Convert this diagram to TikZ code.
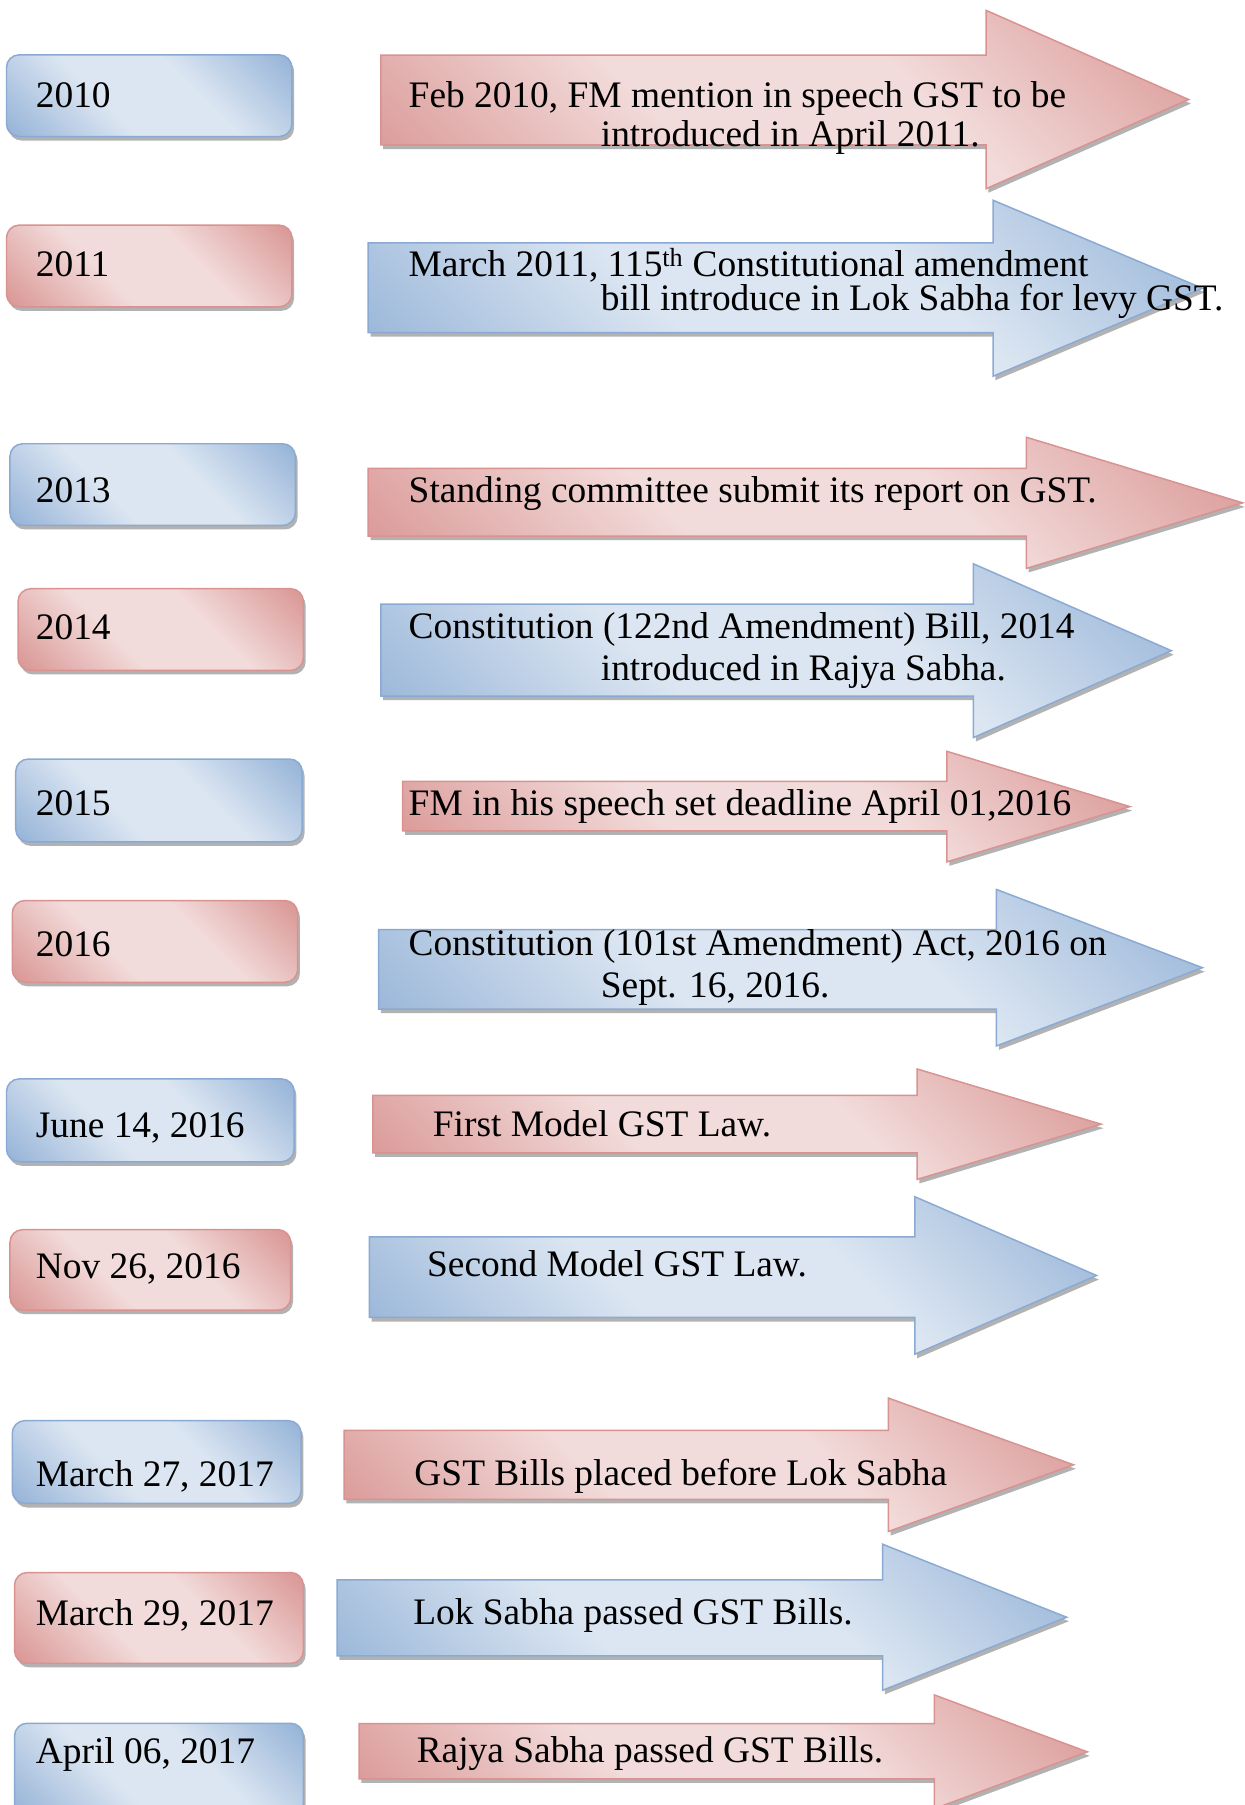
\documentclass[tikz,border=0pt]{standalone}
\usepackage{fontspec}
\setmainfont{Liberation Serif}
\usetikzlibrary{shadows}
\definecolor{blight}{HTML}{DCE6F2}
\definecolor{bdark}{HTML}{95B3D7}
\definecolor{bline}{HTML}{8AAAD3}
\definecolor{rlight}{HTML}{F2DCDB}
\definecolor{rdark}{HTML}{D99694}
\definecolor{rline}{HTML}{D89391}
\pgfdeclareverticalshading{bdiag}{100bp}{color(0bp)=(bdark); color(15bp)=(bdark); color(40bp)=(blight); color(60bp)=(blight); color(85bp)=(bdark); color(100bp)=(bdark)}
\pgfdeclareverticalshading{rdiag}{100bp}{color(0bp)=(rdark); color(15bp)=(rdark); color(40bp)=(rlight); color(60bp)=(rlight); color(85bp)=(rdark); color(100bp)=(rdark)}
\tikzset{
  shad/.style={drop shadow={shadow xshift=2pt, shadow yshift=-3.5pt, fill=black, opacity=0.3}},
  bluefill/.style={shad, shading=bdiag, shading angle=135, draw=bline, line width=1.3pt},
  redfill/.style={shad, shading=rdiag, shading angle=135, draw=rline, line width=1.3pt},
  datebox/.style={rectangle, rounded corners=11pt, anchor=north west, inner sep=0pt},
  txt/.style={font=\fontsize{32.5}{40}\selectfont, inner sep=0pt, anchor=base west},
}
\newcommand\gstarrow[9]{\draw[#1] (#2,#3) -- (#5,#3) -- (#5,#6) -- (#8,#9) -- (#5,#7) -- (#5,#4) -- (#2,#4) -- cycle;}
\newcommand\gstbox[6]{\node[datebox,#2, minimum width=#5pt-#3pt, minimum height=#6pt-#4pt] (#1) at (#3,#4) {};}
\begin{document}
\begin{tikzpicture}[x=1pt,y=-1pt]
\useasboundingbox (0,0) rectangle (1082,1568.7);
% date boxes
\gstbox{b1}{bluefill}{5}{47}{253}{118}
\gstbox{b2}{redfill}{5}{195}{253}{266}
\gstbox{b3}{bluefill}{8}{385}{256}{456}
\gstbox{b4}{redfill}{15}{511}{263}{582}
\gstbox{b5}{bluefill}{13}{659}{262}{731}
\gstbox{b6}{redfill}{10}{782}{258}{853}
\gstbox{b7}{bluefill}{5}{937}{255}{1009}
\gstbox{b8}{redfill}{8}{1068}{252}{1138}
\gstbox{b9}{bluefill}{10}{1234}{261}{1306}
\gstbox{b10}{redfill}{12}{1366}{263}{1445}
\gstbox{b11}{bluefill}{12}{1497}{263}{1578}
% arrows
\gstarrow{redfill}{331}{48}{126}{857}{9}{164}{1033}{86.5}
\gstarrow{bluefill}{320}{211}{289}{863}{174}{327}{1045}{250.5}
\gstarrow{redfill}{320}{407}{466}{892}{380}{494}{1080}{437}
\gstarrow{bluefill}{331}{525}{605}{846}{490}{641}{1018}{565.5}
\gstarrow{redfill}{350}{679}{722}{823}{653}{749}{982}{701}
\gstarrow{bluefill}{329}{808}{877}{866}{773}{909}{1045}{841}
\gstarrow{redfill}{324}{952}{1002}{797}{929}{1025}{957}{977}
\gstarrow{bluefill}{321}{1075}{1145}{795}{1040}{1177}{953}{1108.5}
\gstarrow{redfill}{299}{1243}{1303}{772}{1215}{1331}{933}{1273}
\gstarrow{bluefill}{293}{1373}{1439}{767}{1342}{1469}{927}{1405.5}
\gstarrow{redfill}{312}{1498}{1546}{812}{1473}{1572}{945}{1522.5}
% date labels
\node[txt] (d1) at (31,93) {2010};
\node[txt] (d2) at (31,240.5) {2011};
\node[txt] (d3) at (31,437) {2013};
\node[txt] (d4) at (31,556) {2014};
\node[txt] (d5) at (31,709) {2015};
\node[txt] (d6) at (31,831) {2016};
\node[txt] (d7) at (31,989) {June 14, 2016};
\node[txt] (d8) at (31,1111) {Nov 26, 2016};
\node[txt] (d9) at (31,1292) {March 27, 2017};
\node[txt] (d10) at (31,1413) {March 29, 2017};
\node[txt] (d11) at (31,1533) {April 06, 2017};
% event texts
\node[txt] (e1a) at (355,93) {Feb 2010, FM mention in speech GST to be};
\node[txt] (e1b) at (522,127) {introduced in April 2011.};
\node[txt] (e2a) at (355,240.5) {March 2011, 115\textsuperscript{th} Constitutional amendment};
\node[txt] (e2b) at (522,270) {bill introduce in Lok Sabha for levy GST.};
\node[txt] (e3) at (355,437) {Standing committee submit its report on GST.};
\node[txt] (e4a) at (355,555) {Constitution (122nd Amendment) Bill, 2014};
\node[txt] (e4b) at (522,591) {introduced in Rajya Sabha.};
\node[txt] (e5) at (355,709) {FM in his speech set deadline April 01,2016};
\node[txt] (e6a) at (355,830) {Constitution (101st Amendment) Act, 2016 on};
\node[txt] (e6b) at (522,867) {Sept. 16, 2016.};
\node[txt] (e7) at (376,988) {First Model GST Law.};
\node[txt] (e8) at (371,1109) {Second Model GST Law.};
\node[txt] (e9) at (360,1291) {GST Bills placed before Lok Sabha};
\node[txt] (e10) at (359,1412) {Lok Sabha passed GST Bills.};
\node[txt] (e11) at (362,1532) {Rajya Sabha passed GST Bills.};
\end{tikzpicture}
\end{document}
